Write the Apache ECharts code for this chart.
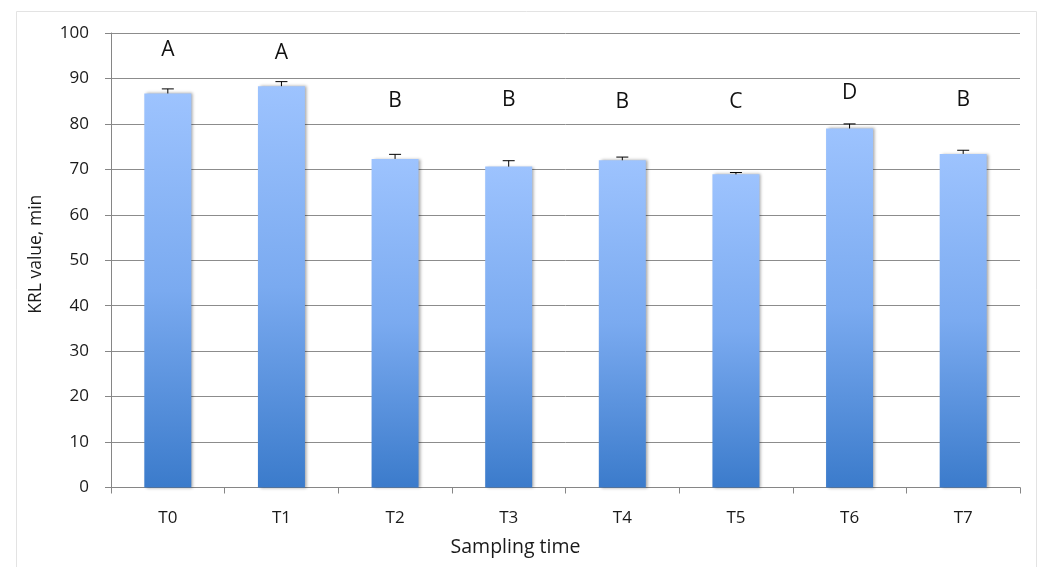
<!DOCTYPE html>
<html>
<head>
<meta charset="utf-8">
<script src="https://cdn.jsdelivr.net/npm/echarts@6/dist/echarts.min.js"></script>
<style>
html,body{margin:0;padding:0;background:#fff;}
#main{width:1038px;height:567px;}
</style>
</head>
<body>
<div id="main"></div>
<script>
const categories = ['T0','T1','T2','T3','T4','T5','T6','T7'];
const values = [86.7, 88.3, 72.3, 70.6, 72.0, 68.9, 79.0, 73.4];
const errors = [1.0, 1.0, 1.0, 1.3, 0.7, 0.4, 1.0, 0.8];
const letters = ['A','A','B','B','B','C','D','B'];
const letterLevels = [96.2, 95.7, 85.0, 85.3, 84.8, 84.8, 86.9, 85.3];
const yTicks = [0, 10, 20, 30, 40, 50, 60, 70, 80, 90, 100];

const FONT = '"Open Sans", sans-serif';
const chart = echarts.init(document.getElementById('main'), null, {renderer: 'canvas'});

chart.setOption({
  backgroundColor: '#fff',
  animation: false,
  graphic: [{
    type: 'rect', left: 14, top: 9, shape: {width: 1020, height: 570},
    style: {fill: 'none', stroke: '#e3e3e3', lineWidth: 1}, silent: true, z: -10
  }],
  grid: {left: 111, right: 18, top: 33, bottom: 79.5, containLabel: false, outerBoundsMode: 'none'},
  xAxis: {
    type: 'category',
    data: categories,
    name: 'Sampling time',
    nameLocation: 'middle',
    nameGap: 50,
    nameTextStyle: {fontFamily: FONT, fontSize: 19.5, color: '#1a1a1a', padding: [0, 100, 0, 0]},
    axisLine: {lineStyle: {color: '#868686', width: 1}},
    axisTick: {show: true, length: 6, lineStyle: {color: '#868686'}},
    axisLabel: {fontFamily: FONT, fontSize: 17, color: '#1a1a1a', margin: 22}
  },
  yAxis: {
    type: 'value',
    min: yTicks[0], max: yTicks[yTicks.length - 1], interval: 10,
    name: 'KRL value, min',
    nameLocation: 'middle',
    nameGap: 66,
    nameRotate: 90,
    nameTextStyle: {fontFamily: FONT, fontSize: 17.5, color: '#1a1a1a', padding: [0, 0, 0, 12]},
    axisLine: {show: true, lineStyle: {color: '#868686'}},
    axisTick: {show: true, length: 6, lineStyle: {color: '#868686'}},
    axisLabel: {fontFamily: FONT, fontSize: 17, color: '#1a1a1a', margin: 22},
    splitLine: {lineStyle: {color: '#8c8c8c', width: 1}}
  },
  series: [
    {
      type: 'bar',
      data: values,
      barWidth: 47,
      itemStyle: {
        color: new echarts.graphic.LinearGradient(0, 0, 0, 1, [
          {offset: 0, color: '#9dc3fe'},
          {offset: 0.5, color: '#7aaaf0'},
          {offset: 1, color: '#3b7bcb'}
        ], false),
        shadowColor: 'rgba(0,0,0,0.35)',
        shadowBlur: 3,
        shadowOffsetX: 2,
        shadowOffsetY: 0
      },
      z: 2
    },
    {
      type: 'custom',
      data: values.map((v, i) => [i, v, errors[i]]),
      renderItem: function (params, api) {
        const i = api.value(0);
        const top = api.coord([i, api.value(1)]);
        const cap = api.coord([i, api.value(1) + api.value(2)]);
        const hw = 6;
        return {
          type: 'group',
          children: [
            {type: 'line', shape: {x1: top[0], y1: top[1], x2: cap[0], y2: cap[1]}, style: {stroke: '#000', lineWidth: 1}},
            {type: 'line', shape: {x1: cap[0] - hw, y1: cap[1], x2: cap[0] + hw, y2: cap[1]}, style: {stroke: '#000', lineWidth: 1}}
          ]
        };
      },
      z: 3
    },
    {
      type: 'custom',
      data: letterLevels.map((v, i) => [i, v, letters[i]]),
      renderItem: function (params, api) {
        const i = api.value(0);
        const p = api.coord([i, api.value(1)]);
        return {
          type: 'text',
          x: p[0], y: p[1],
          style: {
            text: letters[params.dataIndex],
            fontFamily: FONT, fontSize: 21, fill: '#111',
            align: 'center', verticalAlign: 'middle'
          }
        };
      },
      z: 4
    }
  ]
});
</script>
</body>
</html>
